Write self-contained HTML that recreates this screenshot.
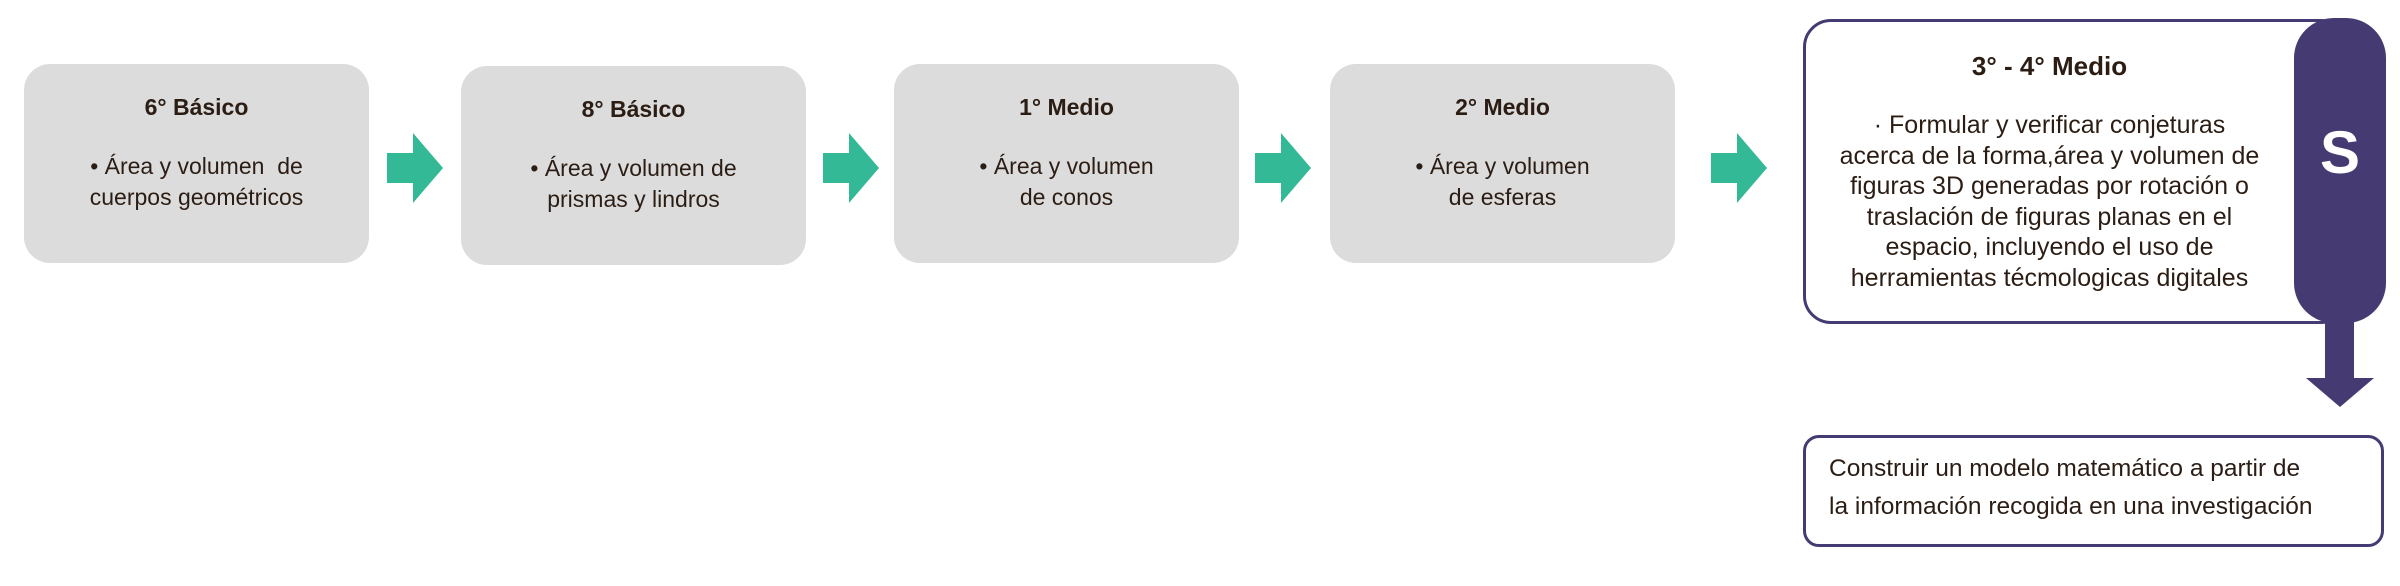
<!DOCTYPE html>
<html><head><meta charset="utf-8"><style>
body{margin:0;width:2400px;height:586px;background:#fff;position:relative;overflow:hidden;font-family:"Liberation Sans",sans-serif;color:#2b1d14}
.b{position:absolute;background:#dcdcdc;border-radius:26px;width:345px;height:199px;text-align:center}
.b h{position:absolute;left:0;right:0;top:30px;font-weight:bold;font-size:23px;display:block}
.b p{position:absolute;left:0;right:0;top:87px;margin:0;font-size:23px;line-height:31px}
.ar{position:absolute;width:56px;height:70px}
</style></head><body>
<div class="b" style="left:24px;top:64px"><h>6° Básico</h><p>• Área y volumen &nbsp;de<br>cuerpos geométricos</p></div>
<div class="b" style="left:461px;top:66px"><h>8° Básico</h><p>• Área y volumen de<br>prismas y lindros</p></div>
<div class="b" style="left:894px;top:64px"><h>1° Medio</h><p>• Área y volumen<br>de conos</p></div>
<div class="b" style="left:1330px;top:64px"><h>2° Medio</h><p>• Área y volumen<br>de esferas</p></div>
<svg class="ar" style="left:387px;top:133px" viewBox="0 0 56 70"><polygon points="0,20 26,20 26,0 56,35 26,70 26,50 0,50" fill="#33b995"/></svg>
<svg class="ar" style="left:823px;top:133px" viewBox="0 0 56 70"><polygon points="0,20 26,20 26,0 56,35 26,70 26,50 0,50" fill="#33b995"/></svg>
<svg class="ar" style="left:1255px;top:133px" viewBox="0 0 56 70"><polygon points="0,20 26,20 26,0 56,35 26,70 26,50 0,50" fill="#33b995"/></svg>
<svg class="ar" style="left:1711px;top:133px" viewBox="0 0 56 70"><polygon points="0,20 26,20 26,0 56,35 26,70 26,50 0,50" fill="#33b995"/></svg>
<div style="position:absolute;left:1803px;top:19px;width:540px;height:299px;border:3px solid #463a72;border-radius:28px"></div>
<div style="position:absolute;left:2294px;top:18px;width:92px;height:305px;background:#463a72;border-radius:40px"></div>
<div style="position:absolute;left:2294px;top:118px;width:92px;text-align:center;color:#fff;font-weight:bold;font-size:60px">S</div>
<svg style="position:absolute;left:2305px;top:318px" width="70" height="90" viewBox="0 0 70 90"><polygon points="20,0 49,0 49,60 69,60 35,89 1,60 20,60" fill="#463a72"/></svg>
<div style="position:absolute;left:1806px;top:51px;width:487px;text-align:center;font-weight:bold;font-size:26px">3° - 4° Medio</div>
<div style="position:absolute;left:1796px;top:110px;width:507px;text-align:center;font-size:25px;line-height:30.5px">· Formular y verificar conjeturas<br>acerca de la forma,área y volumen de<br>figuras 3D generadas por rotación o<br>traslación de figuras planas en el<br>espacio, incluyendo el uso de<br>herramientas técmologicas digitales</div>
<div style="position:absolute;left:1803px;top:435px;width:575px;height:106px;border:3px solid #463a72;border-radius:16px"></div>
<div style="position:absolute;left:1829px;top:450px;font-size:24.5px;line-height:38px">Construir un modelo matemático a partir de<br>la información recogida en una investigación</div>
</body></html>
